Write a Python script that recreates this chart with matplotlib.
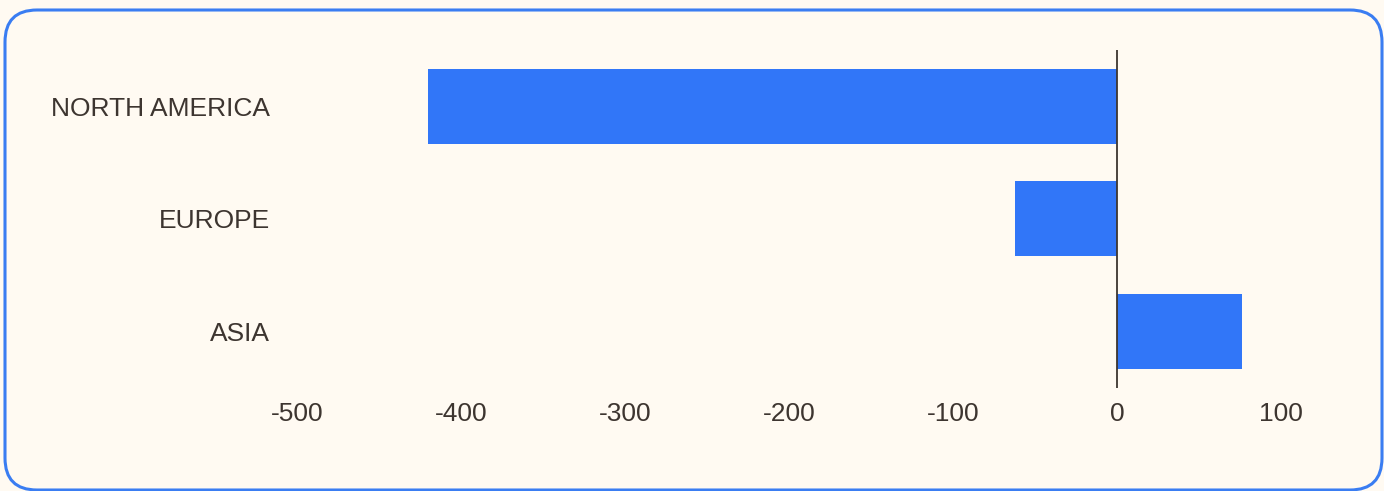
import matplotlib
matplotlib.use("Agg")
import matplotlib.pyplot as plt
from matplotlib.patches import FancyBboxPatch
from matplotlib.transforms import IdentityTransform

# regional change values
regions = ["NORTH AMERICA", "EUROPE", "ASIA"]
values = [-420, -62, 76]
xticks = [-500, -400, -300, -200, -100, 0, 100]

bg = "#fffaf2"
bar_color = "#3176f8"
text_color = "#3d3530"
border_color = "#3a7df2"

plt.rcParams['font.family'] = ['Liberation Sans Narrow', 'Liberation Sans', 'DejaVu Sans']

W, H, DPI = 1384, 491, 100
fig = plt.figure(figsize=(W / DPI, H / DPI), dpi=DPI, facecolor=bg)

# rounded frame, drawn in pixel space so the corners stay circular
frame = FancyBboxPatch((5, 1), 1377, 480, boxstyle="round,pad=0,rounding_size=32",
                       transform=IdentityTransform(), facecolor="none",
                       edgecolor=border_color, linewidth=2.2, zorder=5)
fig.patches.append(frame)

ax = fig.add_axes([297 / W, (H - 387.5) / H, (1281 - 297) / W, (387.5 - 50) / H])
ax.set_facecolor("none")

ypos = list(range(len(regions)))
ax.barh(ypos, values, height=0.667, color=bar_color, zorder=2)
ax.axvline(0, color=text_color, linewidth=1.3, zorder=3)

ax.set_xlim(-500, 100)
ax.set_ylim(len(regions) - 0.5, -0.5)
ax.set_xticks(xticks)
ax.set_xticklabels([str(t) for t in xticks])
ax.set_yticks(ypos)
ax.set_yticklabels(regions)
ax.tick_params(axis='both', length=0, labelsize=19, colors=text_color)
ax.tick_params(axis='x', pad=10.5)
ax.tick_params(axis='y', pad=19.5)
for s in ax.spines.values():
    s.set_visible(False)

fig.savefig("out.png", dpi=DPI, facecolor=bg)
